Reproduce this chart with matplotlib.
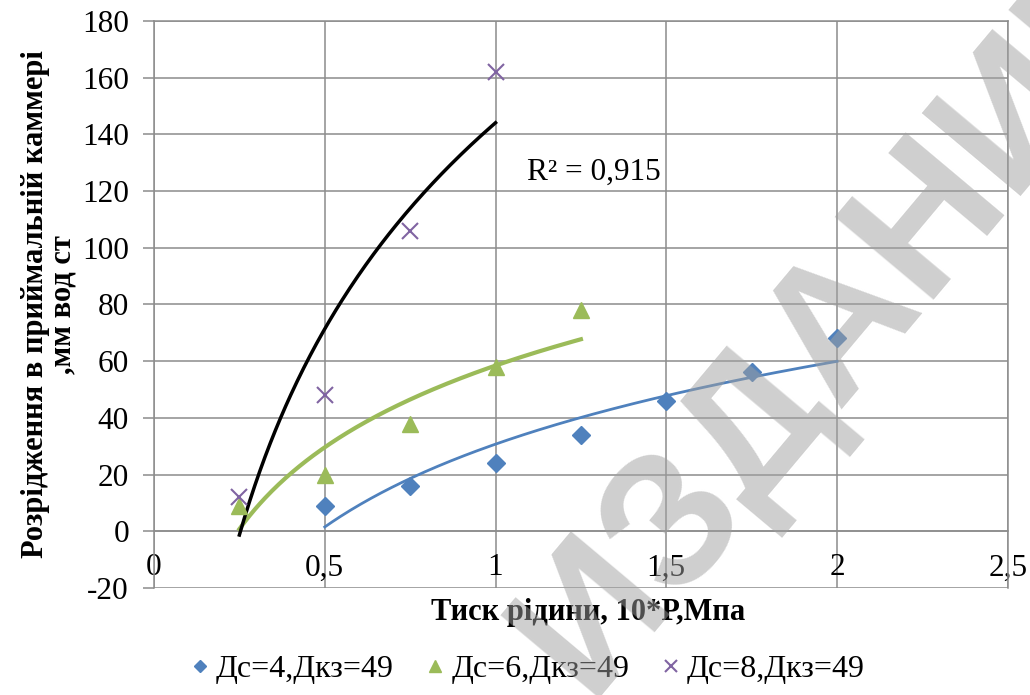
import numpy as np
import matplotlib
matplotlib.use('Agg')
import matplotlib.pyplot as plt

# data
x_dc4 = [0.5, 0.75, 1.0, 1.25, 1.5, 1.75, 2.0]
y_dc4 = [9, 16, 24, 34, 46, 56, 68]
x_dc6 = [0.25, 0.5, 0.75, 1.0, 1.25]
y_dc6 = [9, 20, 38, 58, 78]
x_dc8 = [0.25, 0.5, 0.75, 1.0]
y_dc8 = [12, 48, 106, 162]
labels = ['Дс=4,Дкз=49', 'Дс=6,Дкз=49', 'Дс=8,Дкз=49']
r2_text = 'R² = 0,915'
x_ticks = [0, 0.5, 1, 1.5, 2, 2.5]
x_tick_labels = ['0', '0,5', '1', '1,5', '2', '2,5']
y_ticks = list(range(-20, 181, 20))

plt.rcParams['font.family'] = ['Liberation Serif', 'DejaVu Serif']
plt.rcParams['axes.unicode_minus'] = False

BLUE = '#4f81bd'
GREEN = '#9bbb59'
PURPLE = '#8064a2'
GRID = '#8c8c8c'
FS = 22.5


def log_trend(xs, ys, n=200):
    # excel-style logarithmic trendline
    a, b = np.polyfit(np.log(xs), ys, 1)
    xx = np.linspace(min(xs), max(xs), n)
    return xx, a * np.log(xx) + b


fig = plt.figure(figsize=(10.3, 6.95), dpi=100)
ax = fig.add_axes([0.1495, 0.154, 0.829, 0.816])

ax.set_xlim(0, 2.5)
ax.set_ylim(-20, 180)
ax.set_xticks(x_ticks)
ax.set_xticklabels(x_tick_labels)
ax.set_yticks(y_ticks)
ax.grid(True, color=GRID, linewidth=1.1)
ax.set_axisbelow(True)

for s in ['top', 'left', 'right']:
    ax.spines[s].set_color(GRID)
    ax.spines[s].set_linewidth(1.1)
ax.spines['bottom'].set_position(('data', 0))
ax.spines['bottom'].set_color(GRID)
ax.spines['bottom'].set_linewidth(1.1)

ax.tick_params(axis='y', length=8, color=GRID, width=1.1, pad=10, labelsize=FS)
ax.tick_params(axis='x', length=0, pad=16, labelsize=FS)

# trendlines
xx, yy = log_trend(x_dc4, y_dc4)
ax.plot(xx, yy, color=BLUE, lw=2, zorder=3)
xx, yy = log_trend(x_dc6, y_dc6)
ax.plot(xx, yy, color=GREEN, lw=3, zorder=3)
xx, yy = log_trend(x_dc8, y_dc8)
ax.plot(xx, yy, color='black', lw=2.5, zorder=3)

ax.plot(x_dc4, y_dc4, 'D', color=BLUE, ms=9, ls='none', label=labels[0], zorder=4)
ax.plot(x_dc6, y_dc6, '^', color=GREEN, ms=12, ls='none', label=labels[1], zorder=4)
ax.plot(x_dc8, y_dc8, 'x', color=PURPLE, ms=12, mew=1.5, ls='none', label=labels[2], zorder=4)

ax.text(1.092, 126.5, r2_text, fontsize=FS, ha='left', va='center')

ax.set_xlabel('Тиск рідини, 10*Р,Мпа', fontsize=22, fontweight='bold')
ax.xaxis.set_label_coords(0.508, -0.017)
ax.set_ylabel('Розрідження в приймальній каммері\n,мм вод ст', fontsize=22,
              fontweight='bold', linespacing=0.95)
ax.yaxis.set_label_coords(-0.089, 0.5)

fig.legend(loc='center', bbox_to_anchor=(0.512, 0.037), ncol=3, frameon=False,
           fontsize=23, handlelength=0.6, handletextpad=0.2, columnspacing=1.0,
           markerscale=0.7)

# watermark
fig.text(0.82, 0.545, 'ИЗДАНИЕ', fontsize=135, fontweight='bold', color='#a0a0a0',
         alpha=0.5, rotation=50, ha='center', va='center', family='Liberation Sans',
         zorder=10)

fig.savefig('out.png', dpi=100)
